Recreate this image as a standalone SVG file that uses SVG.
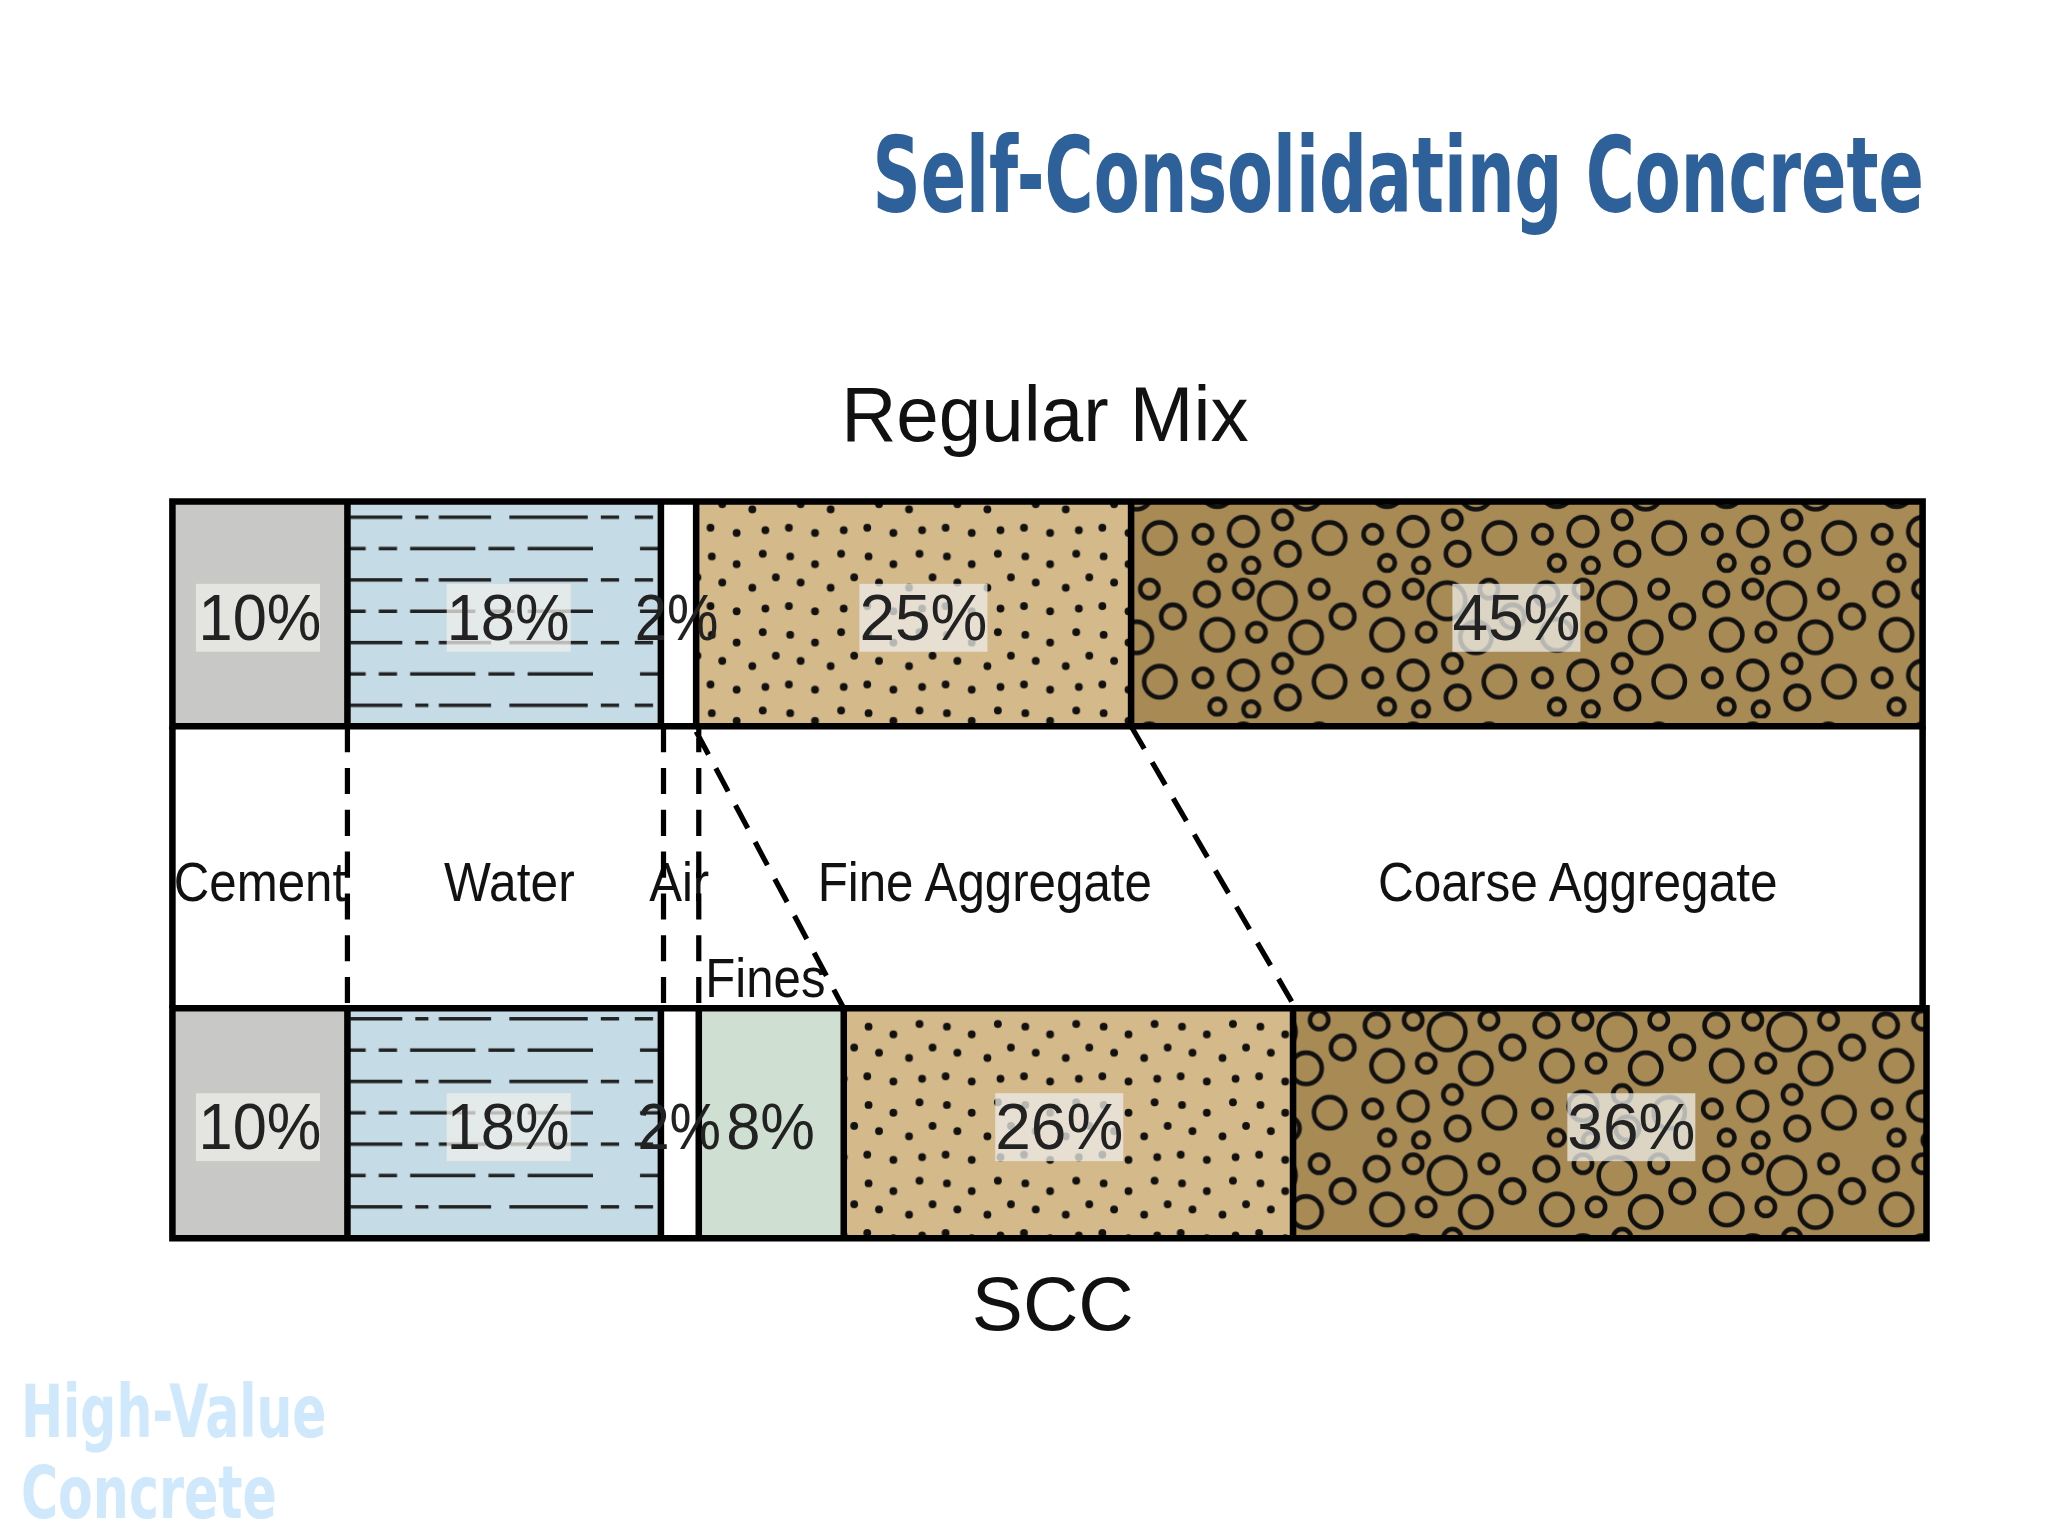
<svg xmlns="http://www.w3.org/2000/svg" width="2048" height="1536" viewBox="0 0 2048 1536">
<style>
.t{font-family:"Liberation Sans",Arial,sans-serif;fill:#111}
.pct{font-family:"Liberation Sans",Arial,sans-serif;font-size:50px;fill:#222}
.lab{font-family:"Liberation Sans",Arial,sans-serif;font-size:42px;fill:#111}
.bx{fill:#eeeeea;opacity:0.75}
.ol{fill:none;stroke:#000;stroke-width:5}
.dash{stroke:#000;stroke-width:4;stroke-dasharray:20,12;fill:none}
</style>
<defs>
<pattern id="water" width="240" height="48" patternUnits="userSpaceOnUse">
<rect width="240" height="48" fill="#c5dbe6"/>
<path d="M6 12h14M28 12h40M78 12h10M96 12h40M150 12h60M220 12h14M10 36h30M50 36h14M74 36h50M134 36h20M164 36h50" stroke="#222" stroke-width="2.5"/>
</pattern>
<pattern id="fine" width="60" height="60" patternUnits="userSpaceOnUse">
<rect width="60" height="60" fill="#d4b98a"/>
<g fill="#111"><circle cx="5" cy="6" r="3"/><circle cx="24" cy="12" r="3"/><circle cx="44" cy="4" r="3"/><circle cx="13" cy="26" r="3"/><circle cx="36" cy="30" r="3"/><circle cx="54" cy="22" r="3"/><circle cx="4" cy="44" r="3"/><circle cx="24" cy="48" r="3"/><circle cx="46" cy="46" r="3"/></g>
</pattern>
<pattern id="coarse" width="130" height="110" patternUnits="userSpaceOnUse">
<rect width="130" height="110" fill="#a88a55"/>
<g fill="none" stroke="#111" stroke-width="3.5"><circle cx="14" cy="15" r="9"/><circle cx="42" cy="11" r="7"/><circle cx="68" cy="20" r="14"/><circle cx="100" cy="11" r="7"/><circle cx="118" cy="32" r="9"/><circle cx="22" cy="46" r="12"/><circle cx="52" cy="44" r="7"/><circle cx="90" cy="48" r="12"/><circle cx="11" cy="79" r="7"/><circle cx="42" cy="77" r="11"/><circle cx="72" cy="68" r="7"/><circle cx="76" cy="94" r="9"/><circle cx="108" cy="82" r="12"/><circle cx="22" cy="101" r="6"/><circle cx="48" cy="103" r="6"/></g>
</pattern>
</defs>
<rect width="2048" height="1536" fill="#fff"/>
<g transform="scale(1.30612)">
<g id="title"><text x="668" y="162" textLength="805" lengthAdjust="spacingAndGlyphs" style="font-family:'DejaVu Sans Condensed','DejaVu Sans',sans-serif;font-weight:bold;font-size:80px;fill:#2e609a">Self-Consolidating Concrete</text></g>
<g id="regular-label"><text class="t" x="800" y="338" text-anchor="middle" font-size="60" textLength="312" lengthAdjust="spacingAndGlyphs">Regular Mix</text></g>
<g id="regular-bar">
<rect x="132" y="384" width="134" height="172" fill="#c8c8c6"/>
<rect x="266" y="384" width="240" height="172" fill="url(#water)"/>
<rect x="506" y="384" width="27" height="172" fill="#fff"/>
<rect x="533" y="384" width="333" height="172" fill="url(#fine)"/>
<rect x="866" y="384" width="606" height="172" fill="url(#coarse)"/>
<path class="ol" d="M132 384H1472V556H132Z M266 384V556 M506 384V556 M533 384V556 M866 384V556"/>
<rect class="bx" x="150" y="447" width="95" height="52"/><text class="pct" x="152" y="490" textLength="94" lengthAdjust="spacingAndGlyphs">10%</text>
<rect class="bx" x="342" y="447" width="95" height="52"/><text class="pct" x="342" y="490" textLength="94" lengthAdjust="spacingAndGlyphs">18%</text>
<text class="pct" x="486" y="490" textLength="64" lengthAdjust="spacingAndGlyphs">2%</text>
<rect class="bx" x="658" y="447" width="98" height="52"/><text class="pct" x="658" y="490" textLength="98" lengthAdjust="spacingAndGlyphs">25%</text>
<rect class="bx" x="1112" y="447" width="98" height="52"/><text class="pct" x="1112" y="490" textLength="98" lengthAdjust="spacingAndGlyphs">45%</text>
</g>
<g id="middle">
<path class="ol" d="M132 556V772 M1472 556V772"/>
<text class="lab" x="133" y="690" textLength="132" lengthAdjust="spacingAndGlyphs">Cement</text>
<text class="lab" x="390" y="690" text-anchor="middle" textLength="100" lengthAdjust="spacingAndGlyphs">Water</text>
<text class="lab" x="520" y="690" text-anchor="middle" textLength="46" lengthAdjust="spacingAndGlyphs">Air</text>
<text class="lab" x="754" y="690" text-anchor="middle" textLength="256" lengthAdjust="spacingAndGlyphs">Fine Aggregate</text>
<text class="lab" x="1208" y="690" text-anchor="middle" textLength="306" lengthAdjust="spacingAndGlyphs">Coarse Aggregate</text>
<text class="lab" x="540" y="763" textLength="92" lengthAdjust="spacingAndGlyphs">Fines</text>
</g>
<g id="connectors">
<path class="dash" d="M266 556V772 M508 556V772 M535 556V772 M533 560L646 772 M866 556L992 772"/>
</g>
<g id="scc-bar">
<rect x="132" y="772" width="134" height="176" fill="#c8c8c6"/>
<rect x="266" y="772" width="240" height="176" fill="url(#water)"/>
<rect x="506" y="772" width="29" height="176" fill="#fff"/>
<rect x="535" y="772" width="111" height="176" fill="#cfe0d2"/>
<rect x="646" y="772" width="344" height="176" fill="url(#fine)"/>
<rect x="990" y="772" width="485" height="176" fill="url(#coarse)"/>
<path class="ol" d="M132 772H1475V948H132Z M266 772V948 M506 772V948 M535 772V948 M646 772V948 M990 772V948"/>
<rect class="bx" x="150" y="837" width="95" height="52"/><text class="pct" x="152" y="880" textLength="94" lengthAdjust="spacingAndGlyphs">10%</text>
<rect class="bx" x="342" y="837" width="95" height="52"/><text class="pct" x="342" y="880" textLength="94" lengthAdjust="spacingAndGlyphs">18%</text>
<text class="pct" x="488" y="880" textLength="64" lengthAdjust="spacingAndGlyphs">2%</text>
<text class="pct" x="556" y="880" textLength="68" lengthAdjust="spacingAndGlyphs">8%</text>
<rect class="bx" x="762" y="837" width="98" height="52"/><text class="pct" x="762" y="880" textLength="98" lengthAdjust="spacingAndGlyphs">26%</text>
<rect class="bx" x="1200" y="837" width="98" height="52"/><text class="pct" x="1200" y="880" textLength="98" lengthAdjust="spacingAndGlyphs">36%</text>
</g>
<g id="scc-label"><text class="t" x="806" y="1018" text-anchor="middle" font-size="58" textLength="124" lengthAdjust="spacingAndGlyphs">SCC</text></g>
<g id="watermark" style="font-family:'DejaVu Sans Condensed','DejaVu Sans',sans-serif;font-weight:bold;font-size:56px;fill:#cfe8fb">
<text x="16" y="1100" textLength="234" lengthAdjust="spacingAndGlyphs">High-Value</text>
<text x="16" y="1162" textLength="196" lengthAdjust="spacingAndGlyphs">Concrete</text>
</g>
</g>
</svg>
